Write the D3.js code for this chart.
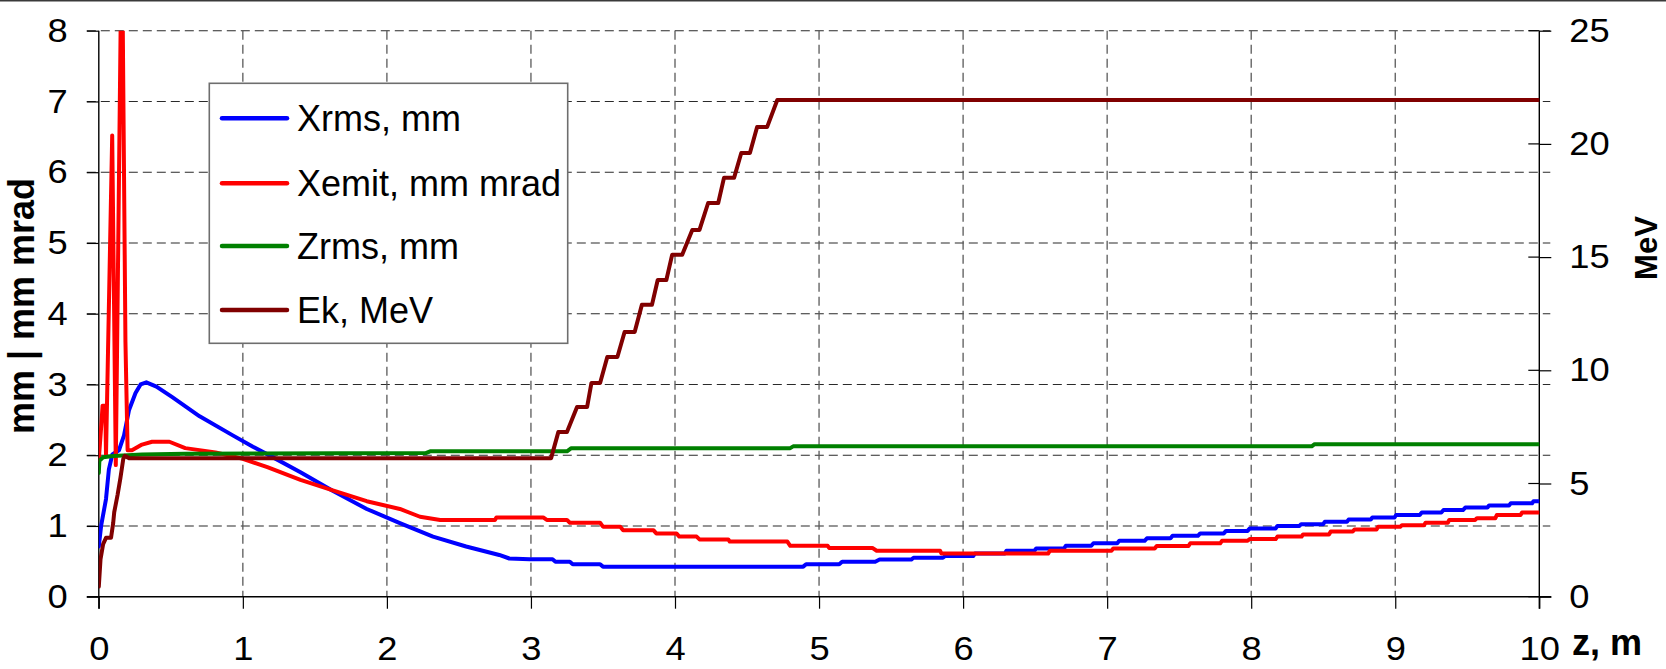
<!DOCTYPE html>
<html>
<head>
<meta charset="utf-8">
<script src="https://cdn.jsdelivr.net/npm/d3@7"></script>
<style>
  html, body { margin: 0; padding: 0; background: #fff; }
  svg { display: block; }
  text { font-family: "Liberation Sans", Arial, sans-serif; fill: #000; }
</style>
</head>
<body>
<svg id="chart" width="1666" height="669"></svg>
<script>
// Beam parameters along the linac (z in metres)
const zXrms = [0, 0.016, 0.05, 0.07, 0.094, 0.14, 0.175, 0.21, 0.255, 0.29, 0.33, 0.4, 0.51, 0.7, 0.93, 1.07, 1.2, 1.4, 1.62, 1.86, 2.09, 2.32, 2.55, 2.78, 2.85, 2.99, 3.15, 3.17, 3.27, 3.29, 3.48, 3.5, 4.89, 4.91, 5.14, 5.16, 5.39, 5.42, 5.64, 5.656, 5.86, 5.876, 6.07, 6.082, 6.29, 6.301, 6.495, 6.507, 6.70, 6.713, 6.89, 6.905, 7.07, 7.084, 7.26, 7.276, 7.44, 7.454, 7.63, 7.646, 7.81, 7.825, 7.975, 7.99, 8.17, 8.182, 8.335, 8.347, 8.5, 8.511, 8.665, 8.676, 8.83, 8.841, 8.995, 9.006, 9.17, 9.184, 9.32, 9.335, 9.47, 9.486, 9.64, 9.651, 9.79, 9.802, 9.95, 9.96, 10];
const xrms = [0.71, 1.0, 1.38, 1.8, 2.01, 2.07, 2.28, 2.64, 2.88, 3.0, 3.03, 2.97, 2.82, 2.55, 2.28, 2.12, 1.98, 1.76, 1.5, 1.24, 1.04, 0.85, 0.71, 0.59, 0.54, 0.53, 0.53, 0.495, 0.495, 0.46, 0.46, 0.425, 0.425, 0.46, 0.46, 0.495, 0.495, 0.525, 0.525, 0.55, 0.55, 0.575, 0.575, 0.61, 0.61, 0.65, 0.65, 0.68, 0.68, 0.72, 0.72, 0.755, 0.755, 0.79, 0.79, 0.825, 0.825, 0.86, 0.86, 0.895, 0.895, 0.93, 0.93, 0.965, 0.965, 1.0, 1.0, 1.025, 1.025, 1.06, 1.06, 1.09, 1.09, 1.12, 1.12, 1.155, 1.155, 1.19, 1.19, 1.225, 1.225, 1.26, 1.26, 1.29, 1.29, 1.32, 1.32, 1.35, 1.35];

const zXemit = [0, 0.02, 0.026, 0.045, 0.05, 0.093, 0.118, 0.16, 0.185, 0.2, 0.23, 0.3, 0.37, 0.49, 0.6, 0.81, 1.0, 1.17, 1.4, 1.63, 1.86, 2.09, 2.23, 2.37, 2.75, 2.76, 3.085, 3.11, 3.25, 3.27, 3.48, 3.5, 3.62, 3.64, 3.85, 3.87, 4.01, 4.03, 4.15, 4.17, 4.37, 4.38, 4.78, 4.8, 5.06, 5.07, 5.37, 5.40, 5.84, 5.85, 6.59, 6.603, 7.03, 7.042, 7.33, 7.344, 7.565, 7.577, 7.785, 7.797, 7.975, 7.99, 8.17, 8.182, 8.35, 8.36, 8.54, 8.552, 8.705, 8.717, 8.87, 8.881, 9.035, 9.046, 9.2, 9.21, 9.365, 9.375, 9.555, 9.567, 9.695, 9.705, 9.87, 9.88, 10];
const xemit = [1.94, 2.5, 2.7, 2.7, 2.0, 6.52, 1.86, 9.6, 3.6, 2.07, 2.07, 2.15, 2.19, 2.19, 2.1, 2.04, 1.95, 1.83, 1.65, 1.5, 1.35, 1.24, 1.13, 1.085, 1.085, 1.12, 1.12, 1.085, 1.085, 1.045, 1.045, 0.99, 0.99, 0.94, 0.94, 0.895, 0.895, 0.85, 0.85, 0.81, 0.81, 0.78, 0.78, 0.72, 0.72, 0.69, 0.69, 0.65, 0.65, 0.61, 0.61, 0.65, 0.65, 0.68, 0.68, 0.716, 0.716, 0.755, 0.755, 0.79, 0.79, 0.815, 0.815, 0.85, 0.85, 0.88, 0.88, 0.92, 0.92, 0.95, 0.95, 0.99, 0.99, 1.01, 1.01, 1.045, 1.045, 1.085, 1.085, 1.11, 1.11, 1.155, 1.155, 1.19, 1.19];

const zZrms = [0, 0.004, 0.03, 0.1, 0.3, 0.6, 2.27, 2.3, 3.25, 3.28, 4.8, 4.82, 8.42, 8.44, 10];
const zrms = [1.75, 1.92, 1.97, 1.99, 2.01, 2.02, 2.03, 2.055, 2.055, 2.1, 2.1, 2.125, 2.125, 2.155, 2.155];

const zEk = [0, 0.012, 0.03, 0.05, 0.085, 0.1, 0.107, 0.13, 0.15, 0.17, 0.18, 0.21, 3.14, 3.19, 3.25, 3.32, 3.39, 3.42, 3.48, 3.53, 3.60, 3.65, 3.72, 3.77, 3.84, 3.88, 3.94, 3.98, 4.05, 4.12, 4.17, 4.23, 4.30, 4.34, 4.41, 4.46, 4.52, 4.57, 4.64, 4.71, 10];
const ek = [0.45, 1.66, 2.32, 2.6, 2.6, 3.26, 3.73, 4.49, 5.24, 6.09, 6.22, 6.12, 6.12, 7.27, 7.27, 8.38, 8.38, 9.44, 9.44, 10.59, 10.59, 11.69, 11.69, 12.89, 12.89, 13.99, 13.99, 15.1, 15.1, 16.2, 16.2, 17.39, 17.39, 18.5, 18.5, 19.6, 19.6, 20.75, 20.75, 21.94, 21.94];

const xTicks = [0, 1, 2, 3, 4, 5, 6, 7, 8, 9, 10];
const leftTicks = [0, 1, 2, 3, 4, 5, 6, 7, 8];
const rightTicks = [0, 5, 10, 15, 20, 25];

const seriesNames = ["Xrms, mm", "Xemit, mm mrad", "Zrms, mm", "Ek, MeV"];
const seriesColors = ["#0000ff", "#ff0000", "#008000", "#800000"];

const svg = d3.select("#chart");
const W = 1666;

const x = d3.scaleLinear().domain([0, 10]).range([98.8, 1539.3]);
const yL = d3.scaleLinear().domain([0, 8]).range([596.7, 30.7]);
const yR = d3.scaleLinear().domain([0, 25]).range([596.7, 30.7]);
const [x0, x1] = x.range();
const [yb, yt] = yL.range();

// frame line across the top edge
svg.append("line").attr("x1", 0).attr("x2", W).attr("y1", 0.8).attr("y2", 0.8)
  .attr("stroke", "#3a3a3a").attr("stroke-width", 1.6);

// dashed grid
const grid = svg.append("g");
grid.selectAll("line.h").data(leftTicks.filter(d => d > 0)).join("line")
  .attr("x1", x0 - 12).attr("x2", x1 + 11)
  .attr("y1", d => yL(d)).attr("y2", d => yL(d))
  .attr("stroke", "#2a2a2a").attr("stroke-width", 1.1).attr("stroke-dasharray", "9,5");
grid.selectAll("line.v").data(xTicks.filter(d => d > 0 && d < 10)).join("line")
  .attr("x1", d => x(d)).attr("x2", d => x(d))
  .attr("y1", yt).attr("y2", yb)
  .attr("stroke", "#5a5a5a").attr("stroke-width", 1.3).attr("stroke-dasharray", "9,5");

// axes
const fontTick = 33;
const gLeft = svg.append("g").attr("transform", `translate(${x0},0)`)
  .call(d3.axisLeft(yL).tickValues(leftTicks).tickSize(12).tickPadding(19).tickFormat(d3.format("d")));
const gBottom = svg.append("g").attr("transform", `translate(0,${yb})`)
  .call(d3.axisBottom(x).tickValues(xTicks).tickSize(12).tickPadding(28).tickFormat(d3.format("d")));
const gRight = svg.append("g").attr("transform", `translate(${x1},0)`)
  .call(d3.axisRight(yR).tickValues(rightTicks).tickSizeInner(12).tickSizeOuter(0).tickPadding(18).tickFormat(d3.format("d")));
[gLeft, gBottom, gRight].forEach(g => {
  g.select(".domain").remove();
  g.selectAll(".tick line").attr("stroke", "#000").attr("stroke-width", 1.2);
  g.selectAll(".tick text").attr("font-size", fontTick)
    .attr("font-family", "'Liberation Sans', Arial, sans-serif").attr("fill", "#000")
    .each(function () {
      // slightly wide digits: stretch horizontally about the label anchor
      const t = d3.select(this);
      const tx = +t.attr("x") || 0, ty = +t.attr("y") || 0;
      t.attr("x", 0).attr("y", 0).attr("transform", `translate(${tx},${ty}) scale(1.1,1)`);
    });
});
// right-axis ticks also reach into the plot
svg.append("g").selectAll("line").data(rightTicks).join("line")
  .attr("x1", x1 - 11).attr("x2", x1)
  .attr("y1", d => yR(d)).attr("y2", d => yR(d))
  .attr("stroke", "#000").attr("stroke-width", 1.2);

// axis lines
svg.append("line").attr("x1", x0).attr("x2", x0).attr("y1", yt).attr("y2", yb + 12)
  .attr("stroke", "#000").attr("stroke-width", 1.4);
svg.append("line").attr("x1", x1).attr("x2", x1).attr("y1", yt).attr("y2", yb + 12)
  .attr("stroke", "#000").attr("stroke-width", 1.4);
svg.append("line").attr("x1", x0 - 12).attr("x2", x1 + 12).attr("y1", yb).attr("y2", yb)
  .attr("stroke", "#000").attr("stroke-width", 1.6);

// axis titles
svg.append("text").attr("transform", `translate(34,306) rotate(-90)`)
  .attr("text-anchor", "middle").attr("font-weight", "bold").attr("font-size", 36)
  .text("mm | mm mrad");
svg.append("text").attr("transform", `translate(1657,248) rotate(-90)`)
  .attr("text-anchor", "middle").attr("font-weight", "bold").attr("font-size", 31)
  .text("MeV");
svg.append("text").attr("x", 1572).attr("y", 655)
  .attr("font-weight", "bold").attr("font-size", 36).text("z, m");

// curves
svg.append("clipPath").attr("id", "plotClip").append("rect")
  .attr("x", x0).attr("y", yt).attr("width", x1 - x0).attr("height", yb - yt);
const plot = svg.append("g").attr("clip-path", "url(#plotClip)");

const series = [
  { z: zXrms, v: xrms, y: yL },
  { z: zXemit, v: xemit, y: yL },
  { z: zZrms, v: zrms, y: yL },
  { z: zEk, v: ek, y: yR }
];
series.forEach((s, i) => {
  const pts = s.z.map((z, k) => [z, s.v[k]]);
  const line = d3.line().x(d => x(d[0])).y(d => s.y(d[1]));
  plot.append("path").datum(pts).attr("d", line)
    .attr("fill", "none").attr("stroke", seriesColors[i]).attr("stroke-width", 4)
    .attr("stroke-linejoin", "round").attr("stroke-linecap", "round");
});

// legend
const lg = svg.append("g");
lg.append("rect").attr("x", 209.3).attr("y", 83.3).attr("width", 358.4).attr("height", 260)
  .attr("fill", "#fff").attr("stroke", "#6e6e6e").attr("stroke-width", 1.6);
const rowY = [118.3, 183.3, 246, 310];
seriesNames.forEach((name, i) => {
  lg.append("line").attr("x1", 222).attr("x2", 287).attr("y1", rowY[i]).attr("y2", rowY[i])
    .attr("stroke", seriesColors[i]).attr("stroke-width", 4.5).attr("stroke-linecap", "round");
  lg.append("text").attr("x", 297).attr("y", rowY[i]).attr("dy", "0.36em")
    .attr("font-size", 36).text(name);
});
</script>
</body>
</html>
